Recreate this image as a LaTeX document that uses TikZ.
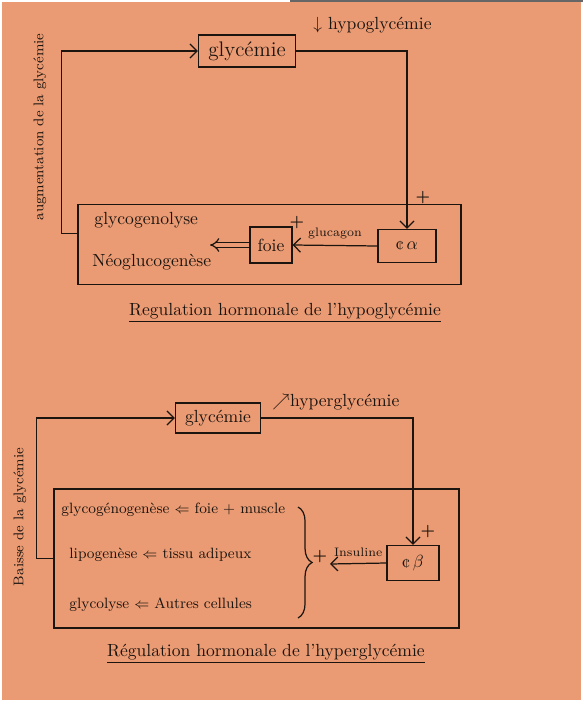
\documentclass[tikz,border=0pt]{standalone}
\usepackage{amsmath}
\usepackage{amssymb}
\usepackage[dvipsnames]{xcolor}
\usetikzlibrary{arrows.meta,decorations.pathreplacing}
\definecolor{papier}{RGB}{234,155,115}
\definecolor{encre}{RGB}{28,20,15}

\begin{document}
\begin{tikzpicture}[x=0.02cm, y=-0.02cm, line width=0.7pt, draw=encre, text=encre,
		boite/.style={draw, inner sep=2pt},
		fleche/.style={-{Straight Barb[length=4pt,width=8pt]}},
		signe/.style={font=\small\bfseries, inner sep=1pt}]
		\useasboundingbox (0,0) rectangle (583,706);
		\fill[white] (0,0) rectangle (583,706);
		\fill[papier] (2,2) rectangle (581,700);
		\draw[line width=1.5pt, black!60] (290,0.5) -- (583,0.5);

		% hypoglycemie
		\node[boite, minimum width=1.94cm, minimum height=0.64cm] (glyA) at (247,51) {\large glycémie};
		\node[anchor=west] (hypo) at (307,25) {$\downarrow$ hypoglycémie};
		\node[rotate=90, font=\footnotesize] (augm) at (40,127) {augmentation de la glycémie};
		\node[draw, minimum width=7.66cm, minimum height=1.6cm] (cadreA) at (269.5,244.5) {};
		\node[anchor=west] (glycogenolyse) at (88,220) {glycogenolyse};
		\node[anchor=west] (neo) at (86,262) {Néoglucogenèse};
		\node[boite, minimum width=0.84cm, minimum height=0.72cm] (foie) at (271,245) {foie};
		\node[boite, minimum width=1.16cm, minimum height=0.66cm] (alpha) at (407,246) {¢\,$\alpha$};
		\node[signe] (plusFoie) at (297,223) {+};
		\node[signe] (plusAlpha) at (423,198) {+};
		\coordinate (sortieFoie) at (210,245);
		\draw[fleche] (glyA.east) -| (alpha.north);
		\draw[fleche] ([yshift=0.22cm]cadreA.west) -- ++(-16,0) |- (glyA.west);
		\draw[fleche] (alpha.west) -- (foie.east) node[midway, above, font=\scriptsize] (glucagon) {glucagon};
		\draw[double=papier, double distance=2pt, -{Implies}] (foie.west) -- (sortieFoie);
		\node (titreA) at (285,313) {\underline{Regulation hormonale de l'hypoglycémie}};

		% hyperglycemie
		\node[boite, minimum width=1.7cm, minimum height=0.6cm] (glyB) at (218,418) {glycémie};
		\node[anchor=west] (hyper) at (266,402) {$\nearrow$hyperglycémie};
		\node[rotate=90, font=\footnotesize] (baisse) at (20,517) {Baisse de la glycémie};
		\node[draw, minimum width=8.1cm, minimum height=2.78cm] (cadreB) at (256.5,558.5) {};
		\node[anchor=west, font=\fontsize{8.5}{10}\selectfont] (glycogenese) at (55,510) {glycogénogenèse $\Leftarrow$ foie + muscle};
		\node[anchor=west, font=\fontsize{8.5}{10}\selectfont] (lipo) at (63,555) {lipogenèse $\Leftarrow$ tissu adipeux};
		\node[anchor=west, font=\fontsize{8.5}{10}\selectfont] (glycolyse) at (63,605) {glycolyse $\Leftarrow$ Autres cellules};
		\draw[decorate, decoration={brace, amplitude=8pt}] (298,507) -- (298,618);
		\coordinate (accolade) at (330,564);
		\node[boite, minimum width=1.04cm, minimum height=0.7cm] (beta) at (413,563) {¢\,$\beta$};
		\node[signe] (plusAcc) at (320,557) {+};
		\node[signe] (plusBeta) at (428,532) {+};
		\draw[fleche] (glyB.east) -| (beta.north);
		\draw[fleche] (cadreB.west) -- ++(-17,0) |- (glyB.west);
		\draw[fleche] (beta.west) -- (accolade) node[midway, above, font=\scriptsize] (insuline) {Insuline};
		\node (titreB) at (266,654) {\underline{Régulation hormonale de l'hyperglycémie}};
	\end{tikzpicture}
\end{document}
